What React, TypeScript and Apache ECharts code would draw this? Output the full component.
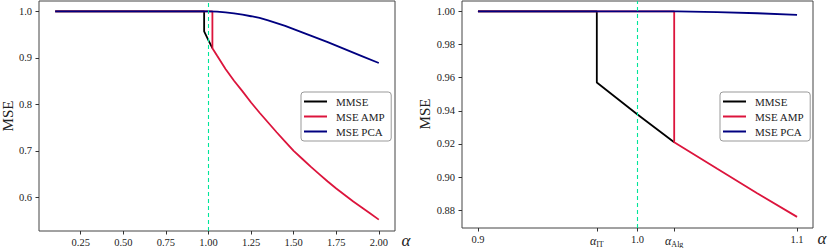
import React, { useEffect, useRef } from "react";
import * as echarts from "echarts";

// ---- data ----
const alphaIT = 0.9745;
const alphaAlg = 1.023;

const leftMMSEx = [0.1, 0.9745, 0.9745, 1.0, 1.023];
const leftMMSEy = [1.0, 1.0, 0.957, 0.9378, 0.921];
const leftAMPx = [0.1, 1.023, 1.023, 1.05, 1.1, 1.15, 1.2, 1.25, 1.3, 1.35, 1.4, 1.45, 1.5, 1.55, 1.6, 1.65, 1.7, 1.75, 1.8, 1.85, 1.9, 1.95, 2.0];
const leftAMPy = [1.0, 1.0, 0.921, 0.905, 0.876, 0.851, 0.828, 0.804, 0.782, 0.761, 0.74, 0.72, 0.7, 0.683, 0.666, 0.65, 0.634, 0.619, 0.605, 0.591, 0.578, 0.565, 0.552];
const leftPCAx = [0.1, 1.0, 1.05, 1.1, 1.15, 1.2, 1.25, 1.3, 1.35, 1.4, 1.45, 1.5, 1.55, 1.6, 1.7, 1.8, 1.9, 2.0];
const leftPCAy = [1.0, 1.0, 0.9995, 0.998, 0.996, 0.993, 0.9897, 0.986, 0.981, 0.975, 0.969, 0.962, 0.955, 0.948, 0.934, 0.919, 0.904, 0.889];

const rightMMSEx = [0.9, 0.9745, 0.9745, 1.0, 1.023];
const rightMMSEy = [1.0, 1.0, 0.957, 0.9378, 0.921];
const rightAMPx = [0.9, 1.023, 1.023, 1.05, 1.075, 1.1];
const rightAMPy = [1.0, 1.0, 0.921, 0.905, 0.8903, 0.876];
const rightPCAx = [0.9, 1.0, 1.025, 1.05, 1.075, 1.1];
const rightPCAy = [1.0, 1.0, 0.9999, 0.9995, 0.9988, 0.9978];

const leftXTicks = [0.25, 0.5, 0.75, 1.0, 1.25, 1.5, 1.75, 2.0];
const leftYTicks = [0.6, 0.7, 0.8, 0.9, 1.0];
const rightXTicks = [0.9, alphaIT, 1.0, alphaAlg, 1.1];
const rightXTickLabels = ["0.9", "{a|α}{s|IT}", "1.0", "{a|α}{s|Alg}", "1.1"];
const rightYTicks = [0.88, 0.9, 0.92, 0.94, 0.96, 0.98, 1.0];

const seriesNames = ["MMSE", "MSE AMP", "MSE PCA"];
const seriesColors = ["#000000", "#dc143c", "#000080"];

const FONT = "'Liberation Serif', 'DejaVu Serif', serif";
const zip = (xs: number[], ys: number[]) => xs.map((x, i) => [x, ys[i]]);

export default function App() {
  const ref = useRef<HTMLDivElement>(null);
  useEffect(() => {
    document.body.style.margin = "0";
    const chart = echarts.init(ref.current!, null, { renderer: "svg" });

    const axisCommon = {
      type: "value" as const,
      splitLine: { show: false },
      axisLine: { show: false },
      axisTick: { show: true, length: 3.5, lineStyle: { color: "#333", width: 1 } },
    };
    const labelStyle = { fontFamily: FONT, fontSize: 10.5, color: "#222" };

    const mkLine = (name: string, color: string, data: number[][], gi: number, extra: any = {}) => ({
      type: "line",
      name,
      xAxisIndex: gi,
      yAxisIndex: gi,
      data,
      showSymbol: false,
      symbol: "none",
      color,
      lineStyle: { color, width: 1.8 },
      ...extra,
    });

    const dashMark = {
      markLine: {
        silent: true,
        symbol: "none",
        label: { show: false },
        lineStyle: { color: "#00e69a", width: 1.1, type: [4, 3] },
        data: [{ xAxis: 1.0 }],
      },
    };

    const legendCommon = {
      orient: "vertical" as const,
      icon: "rect",
      itemWidth: 23,
      itemHeight: 2,
      itemGap: 4,
      padding: [4, 6, 4, 3],
      borderColor: "#999",
      borderWidth: 1,
      borderRadius: 3,
      backgroundColor: "#fff",
      textStyle: { fontFamily: FONT, fontSize: 11, color: "#222", lineHeight: 11, padding: [0, 0, 0, 4] },
      data: seriesNames,
    };

    chart.setOption({
      animation: false,
      grid: [
        { left: 39, top: 1, width: 356, height: 231, show: true, borderColor: "#444", borderWidth: 1, backgroundColor: "transparent" },
        { left: 462, top: 1, width: 351, height: 228.3, show: true, borderColor: "#444", borderWidth: 1, backgroundColor: "transparent" },
      ],
      xAxis: [
        {
          ...axisCommon,
          gridIndex: 0,
          min: 0.005,
          max: 2.095,
          axisTick: { ...axisCommon.axisTick, customValues: leftXTicks },
          axisLabel: { ...labelStyle, margin: 6, customValues: leftXTicks, formatter: (v: number) => v.toFixed(2) },
        },
        {
          ...axisCommon,
          gridIndex: 1,
          min: 0.89,
          max: 1.11,
          axisTick: { ...axisCommon.axisTick, customValues: rightXTicks },
          axisLabel: {
            ...labelStyle,
            margin: 6,
            customValues: rightXTicks,
            formatter: (v: number) => {
              let best = 0;
              rightXTicks.forEach((t, i) => {
                if (Math.abs(t - v) < Math.abs(rightXTicks[best] - v)) best = i;
              });
              return rightXTickLabels[best];
            },
            rich: {
              a: { fontFamily: FONT, fontStyle: "italic", fontSize: 12, color: "#222" },
              s: { fontFamily: FONT, fontSize: 8, color: "#222", padding: [6, 0, 0, 0] },
            },
          },
        },
      ],
      yAxis: [
        {
          ...axisCommon,
          gridIndex: 0,
          min: 0.5275,
          max: 1.0225,
          axisTick: { ...axisCommon.axisTick, customValues: leftYTicks },
          axisLabel: { ...labelStyle, margin: 7, customValues: leftYTicks, formatter: (v: number) => v.toFixed(1) },
        },
        {
          ...axisCommon,
          gridIndex: 1,
          min: 0.8693,
          max: 1.0062,
          axisTick: { ...axisCommon.axisTick, customValues: rightYTicks },
          axisLabel: { ...labelStyle, margin: 7, customValues: rightYTicks, formatter: (v: number) => v.toFixed(2) },
        },
      ],
      legend: [
        { ...legendCommon, left: 301, top: 92 },
        { ...legendCommon, left: 720, top: 92 },
      ],
      series: [
        mkLine(seriesNames[0], seriesColors[0], zip(leftMMSEx, leftMMSEy), 0, dashMark),
        mkLine(seriesNames[1], seriesColors[1], zip(leftAMPx, leftAMPy), 0),
        mkLine(seriesNames[2], seriesColors[2], zip(leftPCAx, leftPCAy), 0),
        mkLine(seriesNames[0], seriesColors[0], zip(rightMMSEx, rightMMSEy), 1, dashMark),
        mkLine(seriesNames[1], seriesColors[1], zip(rightAMPx, rightAMPy), 1),
        mkLine(seriesNames[2], seriesColors[2], zip(rightPCAx, rightPCAy), 1),
      ],
      graphic: [
        { type: "text", x: 406, y: 240, style: { text: "α", fontFamily: FONT, fontStyle: "italic", fontSize: 17, fill: "#222", align: "center", verticalAlign: "middle" } },
        { type: "text", x: 822, y: 238, style: { text: "α", fontFamily: FONT, fontStyle: "italic", fontSize: 17, fill: "#222", align: "center", verticalAlign: "middle" } },
        { type: "text", x: 8, y: 116, rotation: Math.PI / 2, style: { text: "MSE", fontFamily: FONT, fontSize: 15, fill: "#222", align: "center", verticalAlign: "middle" } },
        { type: "text", x: 425, y: 114, rotation: Math.PI / 2, style: { text: "MSE", fontFamily: FONT, fontSize: 15, fill: "#222", align: "center", verticalAlign: "middle" } },
      ],
    });
    return () => chart.dispose();
  }, []);
  return <div ref={ref} style={{ width: 830, height: 248 }} />;
}
